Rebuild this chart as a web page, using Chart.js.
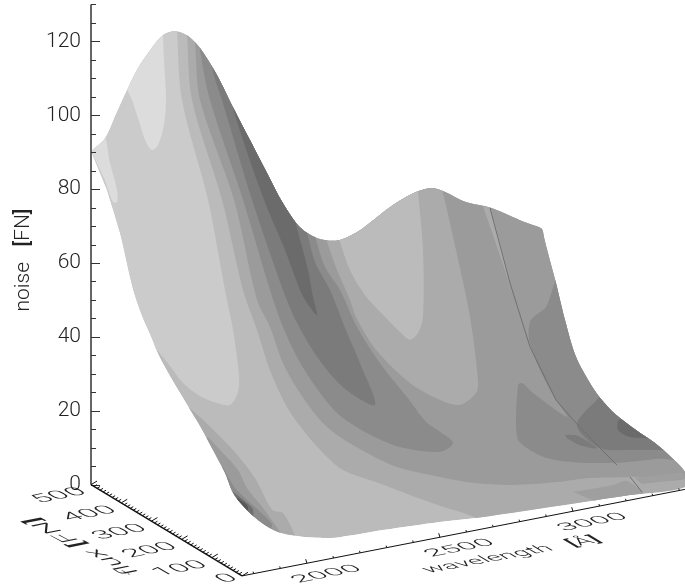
<!DOCTYPE html>
<html>
<head>
<meta charset="utf-8">
<style>
    html, body { margin: 0; padding: 0; background: #fff; }
    canvas { display: block; }
</style>
<script src="https://cdn.jsdelivr.net/npm/chart.js@4/dist/chart.umd.min.js"></script>
</head>
<body>
<canvas id="surfaceChart" width="685" height="587"></canvas>
<script>
// Tick values and labels
const noiseTicks = [0, 20, 40, 60, 80, 100, 120];
const noiseMinorTicks = [5, 10, 15, 25, 30, 35, 45, 50, 55, 65, 70, 75, 85, 90, 95, 105, 110, 115, 125, 130];
const fluxTicks = [0, 100, 200, 300, 400, 500];
const wavelengthTicks = [2000, 2500, 3000];

// Contour regions of the surface as [projected x, noise]
const silhouette = [[91,90.3],[105,93.8],[116,100.3],[128,107.4],[138,112.8],[150,117.6],[163,121.7],[175,122.8],[187,121.7],[200,118.2],[217,110.9],[233,102.2],[250,93.3],[267,84.4],[283,76.2],[300,69.7],[317,66.8],[333,66],[343,66.5],[360,68.9],[376,72.2],[393,75.7],[416,79.2],[431,80.3],[443,79.5],[466,76.5],[490,75],[520,71.6],[536,70],[542,69.2],[544,67],[548,62.7],[556,54.6],[565,44.6],[576,34.6],[590,27.5],[600,23.5],[616,18.9],[636,14.8],[655,11.3],[671,7.5],[685,3.4],[685,-0.6],[630,-2.8],[576,-5],[476,-9],[440,-10.1],[383,-12.3],[340,-14.2],[317,-14.4],[297,-13.9],[278,-12.8],[262,-10.4],[245,-6.3],[233,-2.2],[225,3.2],[213,9.4],[200,15.9],[180,24.8],[160,34.3],[151,40.2],[143,45.1],[133,53],[120,68.1],[107,79.8]];
const tongueLeft = [[157,36.5],[170,32.1],[183,27.5],[200,24],[217,22.1],[230,21.6],[238,25.1],[239,29.7],[233,41.9],[225,52.7],[208,77.1],[182,104.1],[177,123.1],[177,125.8],[85,125.8],[85,60],[130,36.5]];
const lightPeak = [[125,108.2],[150,122],[163,126],[163,121.7],[164,114.9],[166,104.1],[164,97.4],[158,91.9],[152,90.6],[146,92.7],[138,99.2],[132,104.1]];
const lightSliver = [[91,90.3],[104,94.4],[110,87.1],[117,79.8],[117,76.5],[113,76.5],[105,82.5]];
const bandE = [[186,125.8],[187,121.7],[192,104.1],[222,77.1],[243,52.7],[257,41.9],[270,31],[287,21],[303,14.8],[323,8.6],[343,4],[376,0.7],[410,-2.8],[443,-6],[476,-9],[490,-12.3],[700,-12.3],[700,125.8]];
const bandF = [[193,123],[195,119.5],[200,104.1],[234,77.1],[257,50],[270,42.7],[283,32.9],[300,24.8],[320,17.5],[340,12.9],[367,8.6],[397,4.8],[440,2.1],[473,0.5],[513,-0.1],[557,0.7],[590,1.8],[630,2.1],[690,3.4],[700,125.8],[193,125.8]];
const humpE = [[325,67.3],[337,58.1],[350,50],[356,45.4],[376,36.5],[410,27.5],[440,22.9],[460,21.6],[476,24.8],[478,28.3],[470,45.4],[456,63.5],[441,81.1],[435,85.2],[330,85.2]];
const humpTongue = [[338,67.3],[350,58.1],[365,51.3],[383,46],[400,41.3],[410,39.2],[418,41.1],[423,45.4],[423,63.5],[418,79.2],[416,83.8],[340,83.8]];
const bandG = [[200,120.3],[200,117.6],[210,104.1],[243,77.1],[270,52.7],[283,42.7],[297,34.6],[313,27.5],[337,19.4],[367,14],[400,10.2],[440,8.9],[453,11.3],[440,14.3],[426,17],[407,23.7],[380,32.9],[357,42.7],[340,52.7],[325,58.9],[315,67.3],[300,82.5],[220,120.3]];
const bandH = [[213,115],[213,111.7],[222,104.1],[252,77.1],[283,52.7],[297,43.8],[317,34.6],[343,26.4],[375,21.6],[360,32.9],[347,41.1],[330,52.7],[315,60.3],[307,68.1],[290,82.5],[230,115]];
const bandI = [[232,105.5],[234,100.9],[264,77.1],[285,63.5],[300,52.7],[307,49.2],[317,45.9],[313,50.8],[308,58.1],[297,69.5],[285,82.5],[240,105.5]];
const rightG = [[556,55.9],[546,48.1],[536,45.9],[530,44],[529,39.2],[540,31],[556,22.9],[567,18.3],[533,24.8],[522,27.5],[518,27],[517,12.9],[527,9.9],[547,7.2],[573,6.1],[617,5.9],[660,7],[700,7.2],[700,55.9]];
const rightH = [[602,24.5],[577,16.2],[600,9.9],[627,9.4],[660,9.4],[700,9.4],[700,24.5]];
const rightI = [[618,17.5],[618,14.8],[630,12.9],[653,12.4],[670,10.7],[680,14.8],[640,18.9]];
const rightPatch = [[565,13.5],[578,13.2],[597,9.9],[580,10.7],[567,12.6]];
const stripA = [[573,-2],[613,-0.1],[627,1],[645,-3.3],[600,-5]];
const stripB = [[635,1.8],[682,3.2],[685,1.8],[642,0.2]];
const cornerE = [[186,21.6],[200,18.3],[233,9.4],[255,1.8],[272,-6.8],[283,-7.7],[295,-13.6],[297,-15],[250,-15],[170,12.1]];
const cornerF = [[208,12.9],[220,9.4],[238,4],[247,-0.9],[262,-6],[273,-10.1],[280,-12.8],[283,-15],[240,-15],[190,9.4]];
const cornerG = [[223,4.8],[235,-0.9],[247,-4.1],[262,-7.9],[272,-10.9],[265,-13],[225,-9],[210,4]];
const cornerH = [[233,-2],[243,-4.1],[253,-6.8],[250,-11],[225,-4]];
const cornerI = [[238,-3.6],[248,-6],[243,-9],[228,-5]];
const foldSliver = [[483,75.4],[490,74.9],[512,52.2],[505,58.1]];

// Crease lines of the surface
const foldUpper = [[490,74.9],[510,54.6],[530,37.3],[556,22.9],[576,16.7],[600,9.9],[617,5.3]];
const foldLower = [[630,2.1],[642,-2]];

// Painted back to front
const regions = [
    [silhouette, '#bbbbbb'],
    [tongueLeft, '#cbcbcb'],
    [lightPeak, '#dcdcdc'],
    [lightSliver, '#dcdcdc'],
    [bandE, '#ababab'],
    [bandF, '#9b9b9b'],
    [humpE, '#ababab'],
    [humpTongue, '#bbbbbb'],
    [bandG, '#8b8b8b'],
    [bandH, '#7b7b7b'],
    [bandI, '#6b6b6b'],
    [rightG, '#8b8b8b'],
    [rightH, '#7b7b7b'],
    [rightI, '#6b6b6b'],
    [rightPatch, '#7b7b7b'],
    [stripA, '#9f9f9f'],
    [stripB, '#9f9f9f'],
    [cornerE, '#ababab'],
    [cornerF, '#9b9b9b'],
    [cornerG, '#8b8b8b'],
    [cornerH, '#6f6f6f'],
    [cornerI, '#585858'],
    [foldSliver, '#ababab']
];
const creases = [foldUpper, foldLower];

const toPoints = pairs => pairs.map(p => ({ x: p[0], y: p[1] }));
const total = regions.length + creases.length;

const datasets = regions.map(([pairs, color], i) => ({
    data: toPoints(pairs),
    backgroundColor: color,
    fill: 'shape',
    showLine: true,
    borderWidth: 0,
    pointRadius: 0,
    tension: 0.3,
    order: total - i // first region is painted first
}));
creases.forEach((pairs, i) => {
    datasets.push({
        data: toPoints(pairs),
        borderColor: '#707070',
        borderWidth: 1,
        fill: false,
        showLine: true,
        pointRadius: 0,
        order: creases.length - i
    });
});

// Floor of the box: wavelength and flux to projected x and noise
function floorPoint(wavelength, flux) {
    return {
        x: 242 + (wavelength - 1756) * 0.266 - flux * 0.302,
        y: -24.7 + (wavelength - 1756) * 0.01407 + flux * 0.0494
    };
}

const textFont = '300 21px Roboto';
const boldFont = '500 21px Roboto';
const textColor = '#222222';

// Centred text with heavier brackets, as the axis titles have them
function titleRuns(ctx, text) {
    const parts = text.split(/([\[\]])/).filter(s => s.length);
    const fontFor = s => (s === '[' || s === ']') ? boldFont : textFont;
    let width = 0;
    parts.forEach(s => {
        ctx.font = fontFor(s);
        width += ctx.measureText(s).width;
    });
    let x = -width / 2;
    ctx.fillStyle = textColor;
    ctx.textAlign = 'left';
    ctx.textBaseline = 'middle';
    parts.forEach(s => {
        ctx.font = fontFor(s);
        ctx.fillText(s, x, 0);
        x += ctx.measureText(s).width;
    });
}

// Text lying in the floor plane, so it gets a skewed transform
function floorText(ctx, text, px, py, along, down, align) {
    ctx.save();
    ctx.setTransform(along[0], along[1], down[0], down[1], px, py);
    ctx.font = textFont;
    ctx.fillStyle = textColor;
    ctx.textAlign = align;
    ctx.textBaseline = 'middle';
    ctx.fillText(text, 0, 0);
    ctx.restore();
}

function floorTitle(ctx, text, px, py, along, down) {
    ctx.save();
    ctx.setTransform(along[0], along[1], down[0], down[1], px, py);
    titleRuns(ctx, text);
    ctx.restore();
}

const surfaceClip = {
    id: 'surfaceClip',
    beforeDatasetsDraw(chart) {
        const ctx = chart.ctx;
        ctx.save();
        ctx.beginPath();
        chart.getDatasetMeta(0).dataset.path(ctx);
        ctx.closePath();
        ctx.clip();
    },
    afterDatasetsDraw(chart) {
        chart.ctx.restore();
    }
};

const boxAxes = {
    id: 'boxAxes',
    afterDraw(chart) {
        const ctx = chart.ctx;
        const xs = chart.scales.x;
        const ys = chart.scales.y;
        const px = p => [xs.getPixelForValue(p.x), ys.getPixelForValue(p.y)];
        const line = (a, b, color, width) => {
            ctx.beginPath();
            ctx.moveTo(a[0], a[1]);
            ctx.lineTo(b[0], b[1]);
            ctx.strokeStyle = color;
            ctx.lineWidth = width;
            ctx.stroke();
        };
        ctx.save();

        // noise axis
        const axisX = xs.left;
        line([axisX, ys.getPixelForValue(0)], [axisX, ys.getPixelForValue(130)], '#666666', 2);
        noiseTicks.forEach(v => {
            const y = Math.round(ys.getPixelForValue(v)) + 0.5;
            line([axisX, y], [axisX + 9, y], '#333333', 1);
        });
        noiseMinorTicks.forEach(v => {
            const y = Math.round(ys.getPixelForValue(v)) + 0.5;
            line([axisX, y], [axisX + 5, y], '#333333', 1);
        });

        // flux axis
        line(px(floorPoint(1756, 0)), px(floorPoint(1756, 500)), '#111111', 1.4);
        for (let f = 0; f <= 500; f += 10) {
            const a = px(floorPoint(1756, f));
            const len = f % 100 === 0 ? 6 : 3;
            line(a, [a[0] + len, a[1] - len * 0.6], '#111111', 1);
        }
        fluxTicks.forEach(f => {
            const a = px(floorPoint(1756, f));
            const dy = f === 0 ? 1 : 6;
            floorText(ctx, String(f), a[0] - 7, a[1] + dy, [1.4, -0.28], [0.8, 0.47], 'right');
        });
        floorTitle(ctx, 'flux [FN]', 83, 546, [-1.38, -0.73], [1.0, -0.2]);

        // wavelength axis
        line(px(floorPoint(1756, 0)), px(floorPoint(3421, 0)), '#111111', 1);
        for (let w = 1800; w <= 3400; w += 100) {
            const a = px(floorPoint(w, 0));
            const len = w % 500 === 0 ? 4 : 2;
            line(a, [a[0] - len * 0.3, a[1] - len], '#111111', 1);
        }
        wavelengthTicks.forEach(w => {
            const a = px(floorPoint(w, 0));
            floorText(ctx, String(w), a[0] + 20, a[1] + 11, [1.4, -0.28], [0.7, 0.42], 'center');
        });
        floorTitle(ctx, 'wavelength   [Å]', 512, 555, [1.2, -0.22], [0.7, 0.42]);

        // noise title
        ctx.translate(24, 260);
        ctx.rotate(-Math.PI / 2);
        titleRuns(ctx, 'noise   [FN]');
        ctx.restore();
    }
};

new Chart(document.getElementById('surfaceChart'), {
    type: 'scatter',
    data: { datasets },
    plugins: [surfaceClip, boxAxes],
    options: {
        responsive: false,
        animation: false,
        events: [],
        layout: { padding: 0 },
        plugins: { legend: { display: false }, tooltip: { enabled: false } },
        scales: {
            x: { type: 'linear', min: 91, max: 685, display: false },
            y: {
                type: 'linear',
                position: 'left',
                min: -27.7,
                max: 131.2,
                grid: { display: false, drawTicks: false },
                border: { display: false },
                ticks: {
                    padding: 10,
                    color: textColor,
                    font: { family: 'Roboto', size: 21, weight: '300' }
                },
                afterBuildTicks: scale => {
                    scale.ticks = noiseTicks.map(v => ({ value: v }));
                },
                afterFit: scale => {
                    scale.width = 91;
                    scale.paddingTop = 0;
                    scale.paddingBottom = 0;
                }
            }
        }
    }
});
</script>
</body>
</html>
